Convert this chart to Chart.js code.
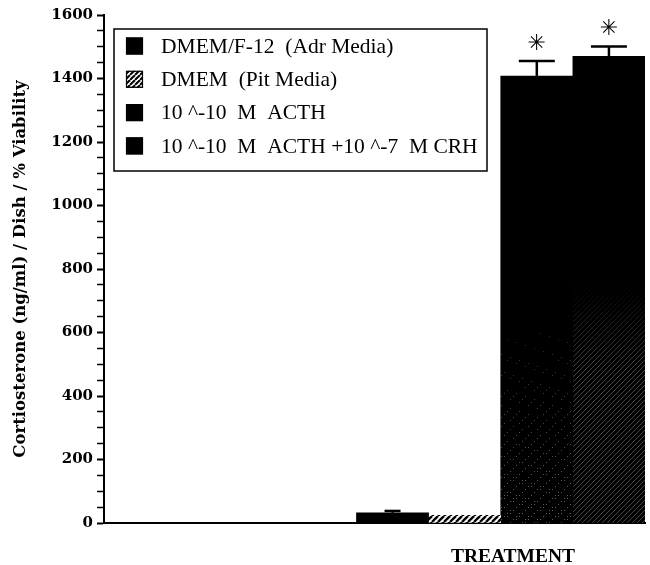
<!DOCTYPE html>
<html><head><meta charset="utf-8">
<script src="https://cdn.jsdelivr.net/npm/chart.js@4/dist/chart.umd.min.js"></script>
<style>html,body{margin:0;padding:0;background:#fff}#wrap{width:650px;height:565px}</style>
</head><body><div id="wrap"><canvas id="c" width="650" height="565"></canvas></div>
<script>
// ---- data ----
const categories = ['DMEM/F-12  (Adr Media)', 'DMEM  (Pit Media)', '10 ^-10  M  ACTH', '10 ^-10  M  ACTH +10 ^-7  M CRH'];
const groupLabel = 'TREATMENT';
const values = [32, 24, 1408, 1470];
const errors = [6, 0, 47, 31];
const significant = [false, false, true, true];
const yTitle = 'Cortiosterone (ng/ml) / Dish / % Viability';
const yMin = 0, yMax = 1600, yMajorStep = 200, yMinorStep = 50;

// ---- fills ----
function hatchPattern(bg, fg, step, lw) {
  const c = document.createElement('canvas'); c.width = step; c.height = step;
  const g = c.getContext('2d');
  g.fillStyle = bg; g.fillRect(0, 0, step, step);
  g.strokeStyle = fg; g.lineWidth = lw;
  for (let k = -1; k <= 1; k++) {
    g.beginPath(); g.moveTo(k * step, step); g.lineTo(k * step + step, 0); g.stroke();
  }
  return g.createPattern(c, 'repeat');
}
function textured(kind) {
  const c = document.createElement('canvas'); c.width = 650; c.height = 565;
  const g = c.getContext('2d');
  g.fillStyle = '#000'; g.fillRect(0, 0, 650, 565);
  if (kind === 'stipple') {
    for (let y = 330; y < 565; y += 3) {
      const t = Math.min(1, (y - 330) / 190);
      for (let x = 0; x < 650; x += 3) {
        if (((x * 7 + y * 13) % 17) / 17 < t * 0.4) {
          g.fillStyle = 'rgba(140,140,140,' + (0.3 + 0.4 * t) + ')';
          g.fillRect(x, y, 1, 1);
        }
      }
    }
  } else {
    g.lineWidth = 1;
    for (let x = -600; x < 650; x += 5) {
      g.strokeStyle = 'rgba(140,140,140,0.5)';
      g.beginPath(); g.moveTo(x, 565); g.lineTo(x + 565, 0); g.stroke();
    }
    const gr = g.createLinearGradient(0, 285, 0, 370);
    gr.addColorStop(0, 'rgba(0,0,0,1)'); gr.addColorStop(1, 'rgba(0,0,0,0)');
    g.fillStyle = gr; g.fillRect(0, 0, 650, 370);
  }
  return g.createPattern(c, 'no-repeat');
}
const hatch = hatchPattern('#fff', '#000', 6, 2.4);
const fills = ['#000', hatch, textured('stipple'), textured('lines')];
const legendFills = ['#000', hatchPattern('#fff', '#000', 5, 2), '#000', '#000'];

const serif = "'Liberation Serif', 'Times New Roman', serif";
const serifBold = "'DejaVu Serif', 'Liberation Serif', serif";

// ---- plugins ----
const errorBars = {
  id: 'errorBars',
  afterDatasetsDraw(chart) {
    const ctx = chart.ctx, ys = chart.scales.y;
    ctx.save();
    ctx.strokeStyle = '#000'; ctx.lineWidth = 2.5;
    chart.data.datasets.forEach((ds, i) => {
      const bar = chart.getDatasetMeta(i).data[0];
      if (!bar) return;
      const x = bar.x;
      const top = ys.getPixelForValue(values[i] + errors[i]);
      const base = ys.getPixelForValue(values[i]);
      if (errors[i] > 0) {
        ctx.beginPath(); ctx.moveTo(x, base); ctx.lineTo(x, top); ctx.stroke();
        const half = errors[i] > 20 ? 18 : 8;
        ctx.beginPath(); ctx.moveTo(x - half, top); ctx.lineTo(x + half, top); ctx.stroke();
      }
      if (significant[i]) {
        ctx.fillStyle = '#000';
        ctx.font = "bold 22px 'DejaVu Sans'";
        ctx.textAlign = 'center'; ctx.textBaseline = 'middle';
        ctx.fillText('\u2733', x, top - 17);
      }
    });
    ctx.restore();
  }
};
const boxLegend = {
  id: 'boxLegend',
  afterDraw(chart) {
    const ctx = chart.ctx;
    const bx = 114, by = 29, bw = 373, bh = 142;
    ctx.save();
    ctx.fillStyle = '#fff'; ctx.fillRect(bx, by, bw, bh);
    ctx.strokeStyle = '#000'; ctx.lineWidth = 1.5; ctx.strokeRect(bx, by, bw, bh);
    ctx.font = '21.5px ' + serif; ctx.textBaseline = 'middle'; ctx.textAlign = 'left';
    chart.data.datasets.forEach((ds, i) => {
      const cy = 46 + i * 33.3;
      ctx.fillStyle = legendFills[i];
      ctx.fillRect(126, cy - 8.5, 17, 17);
      ctx.strokeStyle = '#000'; ctx.lineWidth = 1.2; ctx.strokeRect(126.5, cy - 8, 16, 16);
      ctx.fillStyle = '#000';
      ctx.fillText(ds.label, 161, cy + 1);
    });
    ctx.restore();
  }
};

new Chart(document.getElementById('c'), {
  type: 'bar',
  data: {
    datasets: categories.map((c, i) => ({
      label: c,
      data: [{ x: i + 1, y: values[i] }],
      backgroundColor: fills[i],
      borderWidth: 0,
      grouped: false,
      barPercentage: 1,
      categoryPercentage: 1
    }))
  },
  options: {
    responsive: false,
    animation: false,
    devicePixelRatio: 1,
    layout: { padding: { top: 15, right: 5, left: 0, bottom: 0 } },
    plugins: { legend: { display: false }, tooltip: { enabled: false } },
    scales: {
      x: {
        type: 'linear',
        offset: false,
        min: -3, max: 4.5,
        afterBuildTicks: (s) => { s.ticks = [{ value: 2.67 }]; },
        afterFit: (s) => { s.height = 42; },
        ticks: { callback: () => groupLabel, color: '#000', padding: 22,
                 font: { family: "'Liberation Serif', serif", size: 19.5, weight: 'bold' } },
        grid: { display: true, offset: false, drawOnChartArea: false, drawTicks: false },
        border: { display: true, color: '#000', width: 2 }
      },
      y: {
        min: yMin, max: yMax,
        afterFit: (s) => { s.width = 104; },
        ticks: {
          stepSize: yMinorStep, autoSkip: false, color: '#000', padding: 4,
          callback: (v) => (v % yMajorStep === 0 ? String(v) : ''),
          font: { family: serifBold, size: 15, weight: 'bold' }
        },
        grid: { drawOnChartArea: false, drawTicks: true, tickLength: 7, tickColor: '#000',
                tickWidth: (ctx) => (ctx.tick && ctx.tick.value % yMajorStep === 0 ? 2 : 1.5) },
        border: { display: true, color: '#000', width: 2 },
        title: { display: true, text: yTitle, color: '#000', padding: { top: 11, bottom: 0 },
                 font: { family: serifBold, size: 16.5, weight: 'bold' } }
      }
    }
  },
  plugins: [errorBars, boxLegend]
});
</script>
</body></html>
